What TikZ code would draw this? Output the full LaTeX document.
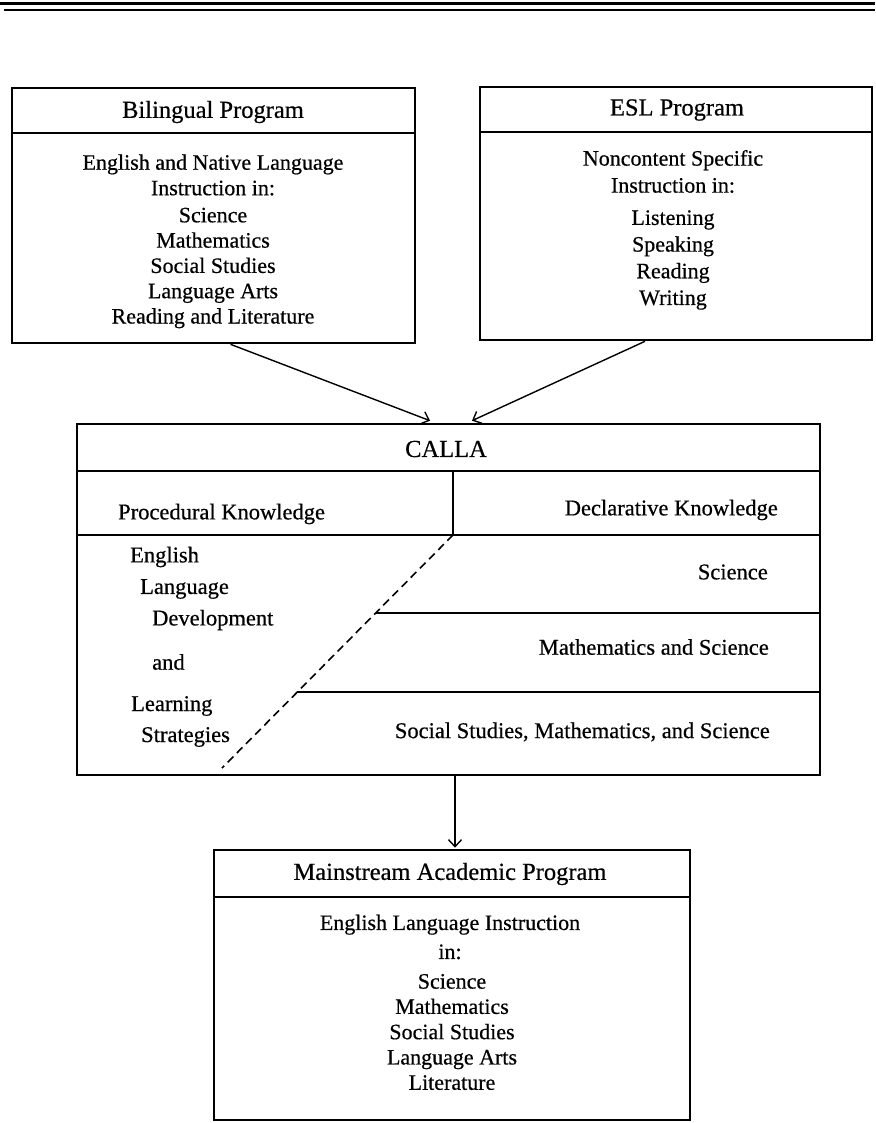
\documentclass[tikz,border=0pt]{standalone}
\usepackage{fontspec}
\setmainfont{Liberation Serif}[FakeBold=0.5]
\usetikzlibrary{arrows.meta,calc}
\begin{document}
\begin{tikzpicture}[x=1pt,y=-1pt,
  box/.style={draw,line width=2.6pt,inner sep=0pt,anchor=center},
  rule/.style={line width=1.6pt},
  title/.style={font=\fontsize{24.5}{28}\selectfont,inner sep=0pt},
  body/.style={font=\fontsize{22}{25.5}\selectfont,align=center,inner sep=0pt},
  lbl/.style={font=\fontsize{22.5}{26}\selectfont,inner sep=0pt},
  conn/.style={line width=1.4pt,-{Straight Barb[length=7pt,width=13pt,line width=1.4pt]}}]
\useasboundingbox (0,0) rectangle (875,1123);
% top rules
\draw[line width=3pt] (0,4) -- (875,4);
\draw[line width=2pt] (4,10.5) -- (875,10.5);
% Bilingual
\node[box,minimum width=403,minimum height=255] (bil) at (213.5,215.5) {};
\draw[rule] (12,133) -- (415,133);
\node[title] (biltitle) at (213,112) {Bilingual Program};
\node[body] (bil1) at (213,175) {English and Native Language\\Instruction in:};
\node[body,font=\fontsize{22}{25.3}\selectfont] (bil2) at (213,268) {Science\\Mathematics\\Social Studies\\Language Arts\\Reading and Literature};
% ESL
\node[box,minimum width=392,minimum height=253] (esl) at (676,213.5) {};
\draw[rule] (480,132) -- (872,132);
\node[title] (esltitle) at (677,110) {ESL Program};
\node[body,font=\fontsize{22}{27}\selectfont] (esl1) at (673,171.5) {Noncontent Specific\\Instruction in:};
\node[body,font=\fontsize{22}{26.7}\selectfont] (esl2) at (673,260) {Listening\\Speaking\\Reading\\Writing};
% CALLA
\node[box,minimum width=743,minimum height=351] (calla) at (448.5,599.5) {};
\draw[rule] (77,471) -- (820,471);
\draw[rule] (453,471) -- (453,535);
\draw[rule] (77,535) -- (820,535);
\draw[rule] (375.5,613) -- (820,613);
\draw[rule] (297,692) -- (820,692);
\draw[line width=1.6pt,dash pattern=on 8pt off 5pt] (453,535) -- (222,768);
\node[title] (callatitle) at (446,449) {CALLA};
\node[lbl,anchor=west] (proc) at (118,514) {Procedural Knowledge};
\node[lbl,anchor=east] (decl) at (778,510) {Declarative Knowledge};
\node[lbl,anchor=west] (l1) at (130,557) {English};
\node[lbl,anchor=west] (l2) at (140,589) {Language};
\node[lbl,anchor=west] (l3) at (152,620) {Development};
\node[lbl,anchor=west] (l4) at (152,662) {and};
\node[lbl,anchor=west] (l5) at (131,706) {Learning};
\node[lbl,anchor=west] (l6) at (141,737) {Strategies};
\node[lbl,anchor=east] (r1) at (768,572) {Science};
\node[lbl,anchor=east] (r2) at (769,647) {Mathematics and Science};
\node[lbl,anchor=east] (r3) at (770,732) {Social Studies, Mathematics, and Science};
% Mainstream
\node[box,minimum width=476,minimum height=270] (main) at (452,985) {};
\draw[rule] (214,897) -- (690,897);
\node[title] (maintitle) at (450,874) {Mainstream Academic Program};
\node[body,font=\fontsize{22}{29}\selectfont] (main1) at (450,937) {English Language Instruction\\in:};
\node[body,font=\fontsize{22}{25.3}\selectfont] (main2) at (452,1032) {Science\\Mathematics\\Social Studies\\Language Arts\\Literature};
% connectors
\draw[conn] ($(bil.south)+(17,0)$) -- ($(calla.north)+(-18.5,-2)$);
\draw[conn] ($(esl.south)+(-31,0)$) -- ($(calla.north)+(23.5,-2)$);
\draw[conn] ($(calla.south)+(6.5,0)$) -- ($(main.north)+(3,-1)$);
\end{tikzpicture}
\end{document}
